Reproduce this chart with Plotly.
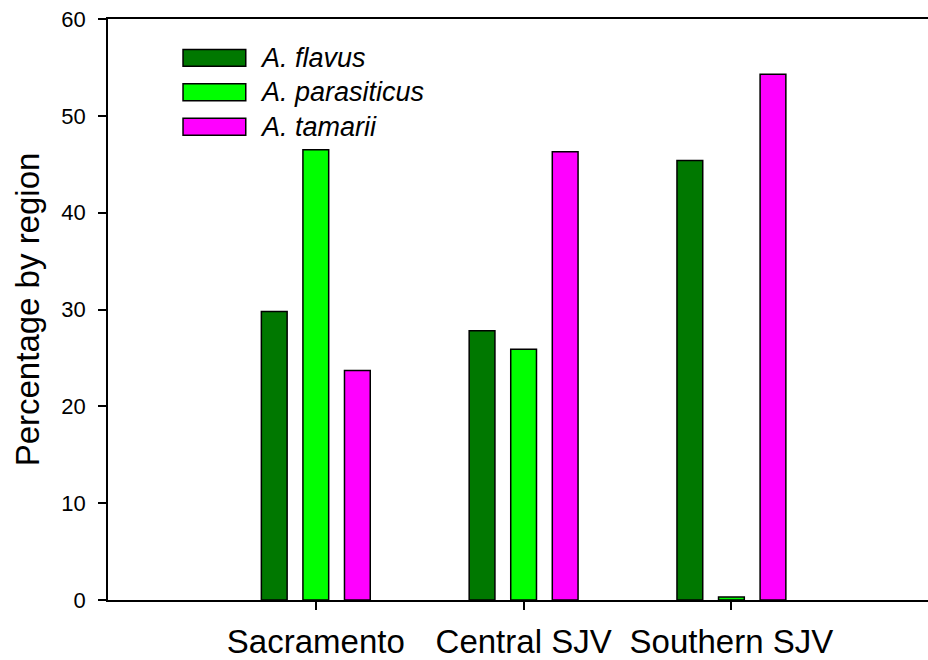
import plotly.graph_objects as go

regions = ["Sacramento", "Central SJV", "Southern SJV"]
series_names = ["A. flavus", "A. parasiticus", "A. tamarii"]
flavus = [29.8, 27.8, 45.4]
parasiticus = [46.5, 25.9, 0.3]
tamarii = [23.7, 46.3, 54.3]
y_ticks = [0, 10, 20, 30, 40, 50, 60]

colors = ["#007800", "#00FF00", "#FF00FF"]
values = [flavus, parasiticus, tamarii]
FONT = "Liberation Sans, Arial, sans-serif"

fig = go.Figure()
for name, vals, col in zip(series_names, values, colors):
    fig.add_trace(go.Bar(
        x=regions, y=vals, name=name,
        marker=dict(color=col, line=dict(color="black", width=1.5)),
        showlegend=False,
    ))

# custom legend (wide rectangles as in the original)
row_y = [0.933, 0.874, 0.8145]
for name, col, yc in zip(series_names, colors, row_y):
    fig.add_shape(type="rect", xref="paper", yref="paper",
                  x0=0.0915, x1=0.168, y0=yc - 0.0145, y1=yc + 0.0145,
                  fillcolor=col, line=dict(color="black", width=1.5))
    fig.add_annotation(xref="paper", yref="paper", x=0.1835, y=yc,
                       xanchor="left", yanchor="middle", showarrow=False,
                       text="<i>" + name + "</i>",
                       font=dict(family=FONT, size=27, color="black"))

fig.update_layout(
    width=928, height=660,
    margin=dict(l=108, r=0, t=19, b=58, pad=0),
    plot_bgcolor="white", paper_bgcolor="white",
    barmode="group", bargap=0.4, bargroupgap=0.38,
    font=dict(family=FONT, color="black"),
    showlegend=False,
)
fig.update_xaxes(
    range=[-1, 2.946], showline=True, linecolor="black", linewidth=1.5,
    mirror=True, ticks="outside", ticklen=8, tickwidth=1.5, tickcolor="black",
    tickfont=dict(size=33), showgrid=False, zeroline=False,
    ticklabelstandoff=4,
)
fig.update_yaxes(
    range=[0, 60], tickvals=y_ticks, showline=True, linecolor="black",
    linewidth=1.5, ticks="outside", ticklen=8, tickwidth=1.5, tickcolor="black",
    tickfont=dict(size=22), showgrid=False, zeroline=False,
    title=dict(text="Percentage by region", font=dict(size=33), standoff=12),
    ticklabelstandoff=8,
)

fig.write_html(
    "out.html",
    config={"displayModeBar": False},
    post_script="document.body.style.margin='0';document.body.style.overflow='hidden';",
)
